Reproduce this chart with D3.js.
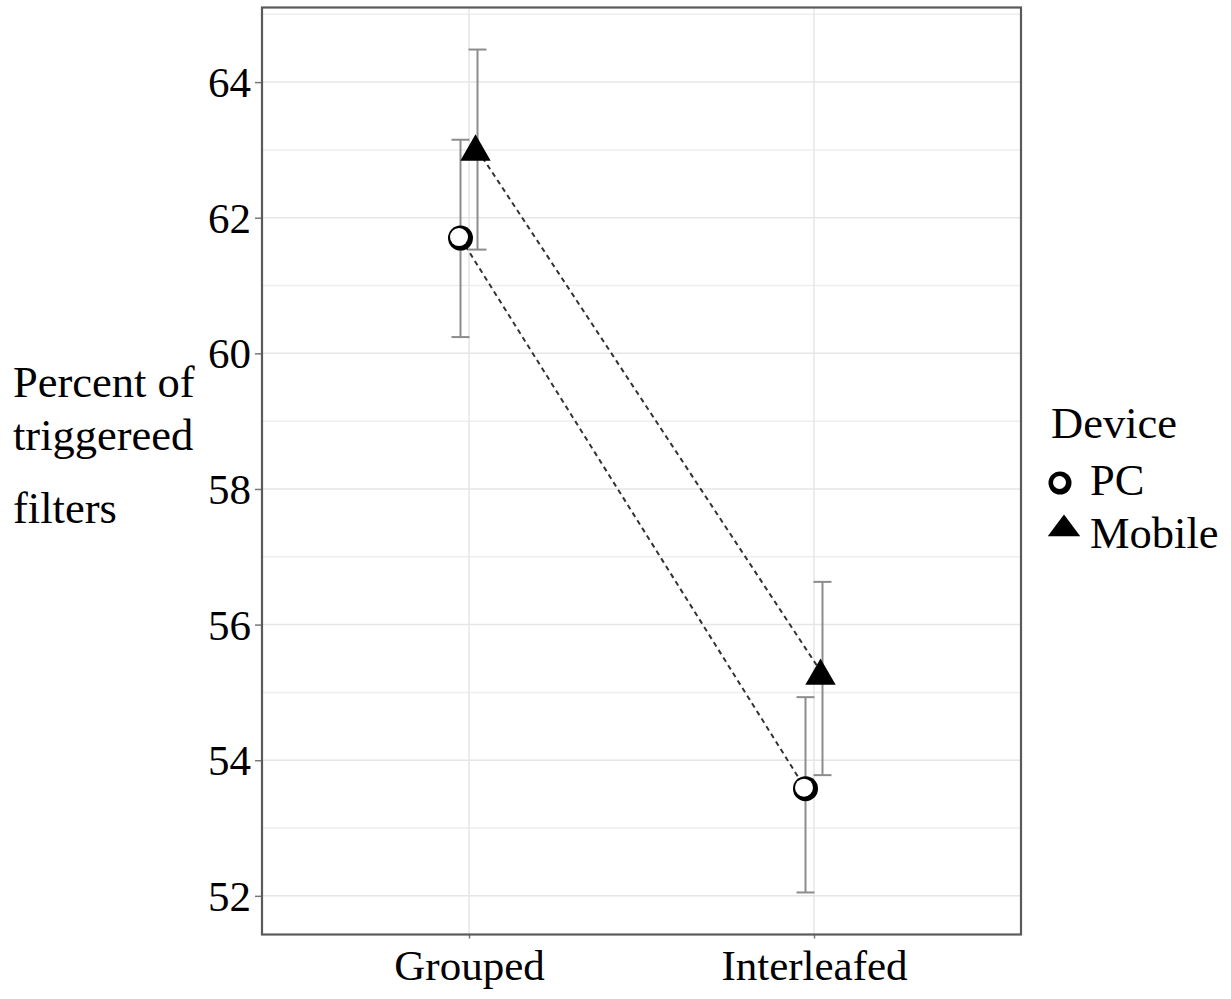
<!DOCTYPE html>
<html>
<head>
<meta charset="utf-8">
<script src="https://cdn.jsdelivr.net/npm/d3@7"></script>
<style>
  html, body { margin: 0; padding: 0; background: #fff; }
  text { font-family: "Liberation Serif", "Times New Roman", serif; fill: #000; }
</style>
</head>
<body>
<svg id="chart" width="1231" height="999"></svg>
<script>
// ---- data ----
const conditions = ["Grouped", "Interleafed"];
const devices = ["PC", "Mobile"];
const pcMean = [61.70, 53.58];
const pcLow = [60.24, 52.05];
const pcHigh = [63.15, 54.93];
const mobileMean = [63.00, 55.27];
const mobileLow = [61.53, 53.78];
const mobileHigh = [64.48, 56.63];
const yTicks = [52, 54, 56, 58, 60, 62, 64];
const yTitleLines = ["Percent of", "triggereed", "filters"];
const legendTitle = "Device";

const series = [
  { device: "PC", mean: pcMean, low: pcLow, high: pcHigh },
  { device: "Mobile", mean: mobileMean, low: mobileLow, high: mobileHigh }
];

// ---- layout ----
const svg = d3.select("#chart");
const panel = { left: 262, right: 1021, top: 7.5, bottom: 934.5 };
const font = 43;
const font2 = 44.5;

const x = d3.scalePoint().domain(conditions).range([panel.left, panel.right]).padding(0.6);
const dodge = d3.scalePoint().domain(devices).range([-8.5, 8.5]);
const y = d3.scaleLinear().domain([51.43, 65.1]).range([panel.bottom, panel.top]);

// grid
const g = svg.append("g");
g.selectAll("line.hgrid").data(d3.range(52, 66)).join("line")
  .attr("x1", panel.left).attr("x2", panel.right)
  .attr("y1", d => y(d)).attr("y2", d => y(d))
  .attr("stroke", d => d % 2 === 0 ? "#e6e6e6" : "#eeeeee").attr("stroke-width", 1.5);
g.selectAll("line.vgrid").data(conditions).join("line")
  .attr("x1", d => x(d)).attr("x2", d => x(d))
  .attr("y1", panel.top).attr("y2", panel.bottom)
  .attr("stroke", "#e6e6e6").attr("stroke-width", 1.5);

// axes
const yAxis = d3.axisLeft(y).tickValues(yTicks).tickSize(7).tickPadding(4).tickFormat(d3.format("d"));
const ya = svg.append("g").attr("transform", `translate(${panel.left},0)`).call(yAxis);
ya.select(".domain").remove();
ya.selectAll(".tick line").attr("stroke", "#777").attr("stroke-width", 1.5);
ya.selectAll(".tick text").attr("font-size", font).attr("fill", "#000").attr("dy", "0.34em");

const xAxis = d3.axisBottom(x).tickSize(4).tickPadding(4);
const xa = svg.append("g").attr("transform", `translate(0,${panel.bottom})`).call(xAxis);
xa.select(".domain").remove();
xa.selectAll(".tick line").attr("stroke", "#777").attr("stroke-width", 1.5);
xa.selectAll(".tick text").attr("font-size", font).attr("fill", "#000")
  .attr("dy", null).attr("y", 980 - panel.bottom);

// dashed connecting lines
series.forEach(s => {
  svg.append("path")
    .datum(conditions.map((c, i) => [x(c) + dodge(s.device), y(s.mean[i])]))
    .attr("d", d3.line())
    .attr("fill", "none").attr("stroke", "#333").attr("stroke-width", 2)
    .attr("stroke-dasharray", "5,4");
});

// error bars
series.forEach(s => {
  conditions.forEach((c, i) => {
    const cx = x(c) + dodge(s.device);
    const eb = svg.append("g").attr("stroke", "#8c8c8c").attr("stroke-width", 2);
    eb.append("line").attr("x1", cx).attr("x2", cx).attr("y1", y(s.low[i])).attr("y2", y(s.high[i]));
    [s.low[i], s.high[i]].forEach(v => {
      eb.append("line").attr("x1", cx - 9).attr("x2", cx + 9).attr("y1", y(v)).attr("y2", y(v));
    });
  });
});

// points
const tri = d3.symbol().type(d3.symbolTriangle).size(400);
series.forEach(s => {
  conditions.forEach((c, i) => {
    const cx = x(c) + dodge(s.device), cy = y(s.mean[i]);
    if (s.device === "PC") {
      svg.append("circle").attr("cx", cx).attr("cy", cy).attr("r", 12.5).attr("fill", "#000");
      svg.append("circle").attr("cx", cx - 1.5).attr("cy", cy - 1).attr("r", 9).attr("fill", "#fff");
    } else {
      svg.append("path").attr("d", tri()).attr("transform", `translate(${cx - 2},${cy + 2})`).attr("fill", "#000");
    }
  });
});

// panel border
svg.append("rect")
  .attr("x", panel.left).attr("y", panel.top)
  .attr("width", panel.right - panel.left).attr("height", panel.bottom - panel.top)
  .attr("fill", "none").attr("stroke", "#5a5a5a").attr("stroke-width", 2.2);

// y title
const yBase = [397, 450, 523];
svg.selectAll("text.ytitle").data(yTitleLines).join("text")
  .attr("class", "ytitle").attr("x", 13).attr("y", (d, i) => yBase[i])
  .attr("font-size", font2).text(d => d);

// legend
svg.append("text").attr("x", 1051).attr("y", 438).attr("font-size", font2).text(legendTitle);
const legY = [483, 528];
devices.forEach((d, i) => {
  if (d === "PC") {
    svg.append("circle").attr("cx", 1060).attr("cy", legY[i]).attr("r", 11.5).attr("fill", "#000");
    svg.append("circle").attr("cx", 1059.5).attr("cy", legY[i] - 0.5).attr("r", 6.5).attr("fill", "#fff");
  } else {
    svg.append("path").attr("d", tri()).attr("transform", `translate(1064,${legY[i] + 1}) scale(1.07,0.82)`).attr("fill", "#000");
  }
  svg.append("text").attr("x", 1090).attr("y", [495, 548][i]).attr("font-size", font2).text(d);
});
</script>
</body>
</html>
